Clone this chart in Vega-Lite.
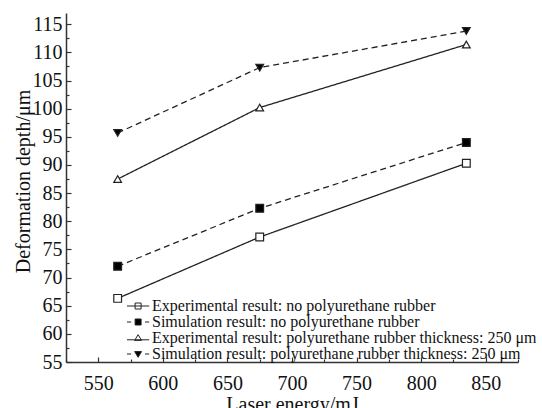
{
  "$schema": "https://vega.github.io/schema/vega-lite/v6.json",
  "width": 452,
  "height": 349,
  "autosize": {"type": "none"},
  "padding": {"left": 66, "top": 13, "right": 24, "bottom": 46},
  "background": "white",
  "config": {
    "view": {"stroke": null},
    "font": "Liberation Serif",
    "axis": {"labelFont": "Liberation Serif", "titleFont": "Liberation Serif", "labelColor": "#111", "titleColor": "#111", "domainColor": "#333", "tickColor": "#333", "domainWidth": 1.5, "tickWidth": 1.2, "grid": false, "titleFontWeight": "normal", "labelFontSize": 20, "titleFontSize": 20}
  },
  "data": {
    "values": [
      {"series": "Experimental result: no polyurethane rubber", "energy": 565, "depth": 66.3},
      {"series": "Experimental result: no polyurethane rubber", "energy": 675, "depth": 77.2},
      {"series": "Experimental result: no polyurethane rubber", "energy": 835, "depth": 90.3},
      {"series": "Simulation result: no polyurethane rubber", "energy": 565, "depth": 72.0},
      {"series": "Simulation result: no polyurethane rubber", "energy": 675, "depth": 82.3},
      {"series": "Simulation result: no polyurethane rubber", "energy": 835, "depth": 94.0},
      {"series": "Experimental result: polyurethane rubber thickness: 250 μm", "energy": 565, "depth": 87.5},
      {"series": "Experimental result: polyurethane rubber thickness: 250 μm", "energy": 675, "depth": 100.2},
      {"series": "Experimental result: polyurethane rubber thickness: 250 μm", "energy": 835, "depth": 111.4},
      {"series": "Simulation result: polyurethane rubber thickness: 250 μm", "energy": 565, "depth": 95.7},
      {"series": "Simulation result: polyurethane rubber thickness: 250 μm", "energy": 675, "depth": 107.3},
      {"series": "Simulation result: polyurethane rubber thickness: 250 μm", "energy": 835, "depth": 113.8}
    ]
  },
  "encoding": {
    "x": {
      "field": "energy", "type": "quantitative",
      "scale": {"domain": [525, 875], "nice": false, "zero": false},
      "axis": {
        "title": "Laser energy/mJ",
        "values": [525, 550, 575, 600, 625, 650, 675, 700, 725, 750, 775, 800, 825, 850, 875],
        "labelExpr": "datum.value % 50 === 0 ? datum.label : ''",
        "tickSize": {"condition": {"test": "datum.value % 50 === 0", "value": -5}, "value": -3},
        "labelPadding": 16,
        "titleY": 48, "titleBaseline": "alphabetic"
      }
    },
    "y": {
      "field": "depth", "type": "quantitative",
      "scale": {"domain": [55, 117], "nice": false, "zero": false},
      "axis": {
        "title": "Deformation depth/μm",
        "values": [55, 57.5, 60, 62.5, 65, 67.5, 70, 72.5, 75, 77.5, 80, 82.5, 85, 87.5, 90, 92.5, 95, 97.5, 100, 102.5, 105, 107.5, 110, 112.5, 115],
        "labelExpr": "datum.value % 5 === 0 ? datum.label : ''",
        "tickSize": {"condition": {"test": "datum.value % 5 === 0", "value": -5}, "value": -3},
        "labelPadding": 9,
        "titleX": -37, "titleY": 168, "titleAngle": -90, "titleBaseline": "alphabetic", "titleAlign": "center"
      }
    }
  },
  "layer": [
    {
      "mark": {"type": "line", "color": "#222", "strokeWidth": 1.3},
      "encoding": {
        "detail": {"field": "series"},
        "strokeDash": {
          "field": "series", "type": "nominal",
          "scale": {
            "domain": ["Experimental result: no polyurethane rubber", "Simulation result: no polyurethane rubber", "Experimental result: polyurethane rubber thickness: 250 μm", "Simulation result: polyurethane rubber thickness: 250 μm"],
            "range": [[1, 0], [6, 4], [1, 0], [6, 4]]
          },
          "legend": null
        }
      }
    },
    {
      "mark": {"type": "point", "filled": true, "stroke": "#222", "strokeWidth": 1.2, "size": 60, "opacity": 1},
      "encoding": {
        "shape": {
          "field": "series", "type": "nominal",
          "scale": {
            "domain": ["Experimental result: no polyurethane rubber", "Simulation result: no polyurethane rubber", "Experimental result: polyurethane rubber thickness: 250 μm", "Simulation result: polyurethane rubber thickness: 250 μm"],
            "range": ["square", "square", "triangle-up", "triangle-down"]
          },
          "legend": null
        },
        "fill": {
          "field": "series", "type": "nominal",
          "scale": {
            "domain": ["Experimental result: no polyurethane rubber", "Simulation result: no polyurethane rubber", "Experimental result: polyurethane rubber thickness: 250 μm", "Simulation result: polyurethane rubber thickness: 250 μm"],
            "range": ["white", "black", "white", "black"]
          },
          "legend": null
        }
      }
    },
    {
      "transform": [{"filter": "datum.depth < 0"}],
      "mark": {"type": "point", "filled": true, "strokeWidth": 1, "opacity": 1},
      "encoding": {
        "shape": {
          "field": "series", "type": "nominal",
          "scale": {
            "domain": ["Experimental result: no polyurethane rubber", "Simulation result: no polyurethane rubber", "Experimental result: polyurethane rubber thickness: 250 μm", "Simulation result: polyurethane rubber thickness: 250 μm"],
            "range": [
              "M-2,0H5.4M0.7,-1H2.7V1H0.7Z",
              "M-2,0H-0.6M4,0H5.4M0.7,-1H2.7V1H0.7Z",
              "M-2,0.6H5.4M1.7,-1.1L2.85,0.8L0.55,0.8Z",
              "M-2,0H-0.6M4,0H5.4M1.7,1.1L2.85,-0.8L0.55,-0.8Z"
            ]
          },
          "legend": {
            "title": null, "orient": "none", "legendX": 59, "legendY": 285,
            "labelFont": "Liberation Serif", "labelFontSize": 16, "labelColor": "#111", "labelLimit": 0,
            "symbolSize": 36, "symbolStrokeWidth": 1, "symbolOpacity": 1,
            "rowPadding": -0.7, "labelOffset": 11, "padding": 0
          }
        },
        "fill": {
          "field": "series", "type": "nominal",
          "scale": {
            "domain": ["Experimental result: no polyurethane rubber", "Simulation result: no polyurethane rubber", "Experimental result: polyurethane rubber thickness: 250 μm", "Simulation result: polyurethane rubber thickness: 250 μm"],
            "range": ["white", "black", "white", "black"]
          }
        },
        "stroke": {
          "field": "series", "type": "nominal",
          "scale": {
            "domain": ["Experimental result: no polyurethane rubber", "Simulation result: no polyurethane rubber", "Experimental result: polyurethane rubber thickness: 250 μm", "Simulation result: polyurethane rubber thickness: 250 μm"],
            "range": ["#222", "#222", "#222", "#222"]
          }
        }
      }
    }
  ],
  "resolve": {"scale": {"shape": "independent", "fill": "independent", "stroke": "independent"}}
}
